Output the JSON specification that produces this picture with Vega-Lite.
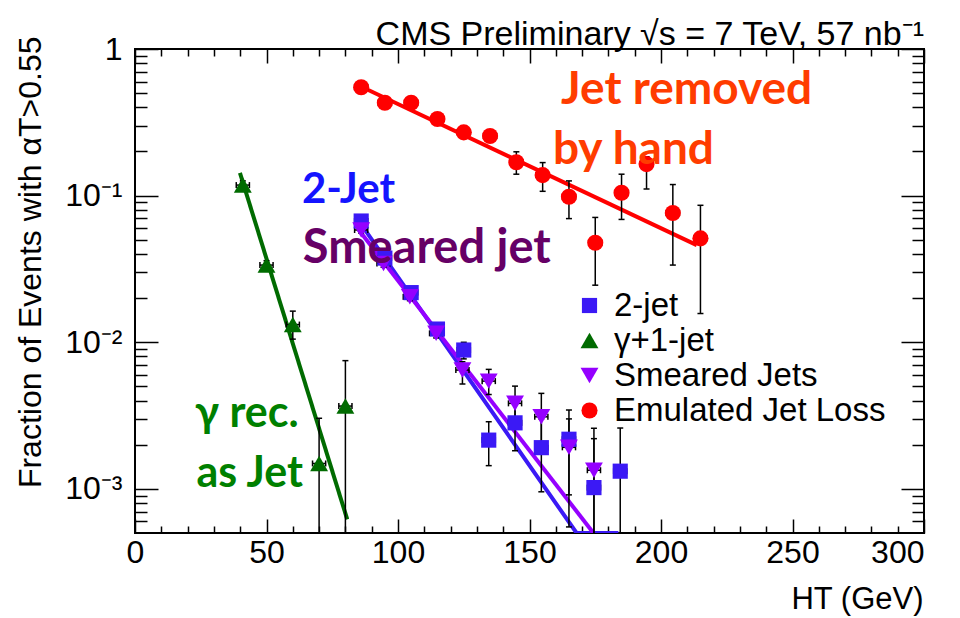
{
  "$schema": "https://vega.github.io/schema/vega-lite/v6.json",
  "width": 789,
  "height": 484,
  "autosize": {"type": "none"},
  "padding": {"left": 135, "top": 49, "right": 36, "bottom": 85},
  "background": "white",
  "title": {
    "text": "CMS Preliminary √s = 7 TeV, 57 nb⁻¹",
    "anchor": "end",
    "frame": "group",
    "font": "Liberation Sans",
    "fontSize": 34,
    "fontWeight": "normal",
    "color": "black",
    "offset": -19
  },
  "config": {
    "view": {"stroke": "black", "strokeWidth": 2},
    "axis": {"grid": false, "domain": false, "tickColor": "black", "tickWidth": 1.5, "labelColor": "black", "titleColor": "black"}
  },
  "datasets": {
    "pts": [
      {"s": "Emulated Jet Loss", "x": 86, "y": 0.548, "lo": 0.53, "hi": 0.566, "xl": 83.5, "xh": 88.5},
      {"s": "Emulated Jet Loss", "x": 95, "y": 0.43, "lo": 0.418, "hi": 0.442, "xl": 92.5, "xh": 97.5},
      {"s": "Emulated Jet Loss", "x": 105, "y": 0.43, "lo": 0.418, "hi": 0.442, "xl": 102.5, "xh": 107.5},
      {"s": "Emulated Jet Loss", "x": 115, "y": 0.333, "lo": 0.322, "hi": 0.344, "xl": 112.5, "xh": 117.5},
      {"s": "Emulated Jet Loss", "x": 125, "y": 0.27, "lo": 0.255, "hi": 0.286, "xl": 122.5, "xh": 127.5},
      {"s": "Emulated Jet Loss", "x": 135, "y": 0.255, "lo": 0.238, "hi": 0.273, "xl": 132.5, "xh": 137.5},
      {"s": "Emulated Jet Loss", "x": 145, "y": 0.169, "lo": 0.14, "hi": 0.199, "xl": 142.5, "xh": 147.5},
      {"s": "Emulated Jet Loss", "x": 155, "y": 0.138, "lo": 0.107, "hi": 0.168, "xl": 152.5, "xh": 157.5},
      {"s": "Emulated Jet Loss", "x": 165, "y": 0.0983, "lo": 0.0697, "hi": 0.126, "xl": 162.5, "xh": 167.5},
      {"s": "Emulated Jet Loss", "x": 175, "y": 0.0477, "lo": 0.0245, "hi": 0.071, "xl": 172.5, "xh": 177.5},
      {"s": "Emulated Jet Loss", "x": 185, "y": 0.1047, "lo": 0.0688, "hi": 0.14, "xl": 182.5, "xh": 187.5},
      {"s": "Emulated Jet Loss", "x": 194.5, "y": 0.164, "lo": 0.111, "hi": 0.184, "xl": 192, "xh": 197},
      {"s": "Emulated Jet Loss", "x": 204.5, "y": 0.0761, "lo": 0.0336, "hi": 0.119, "xl": 202, "xh": 207},
      {"s": "Emulated Jet Loss", "x": 215, "y": 0.0511, "lo": 0.0157, "hi": 0.0859, "xl": 212.5, "xh": 217.5},
      {"s": "γ+1-jet", "x": 41, "y": 0.118, "lo": 0.11, "hi": 0.126, "xl": 38.5, "xh": 43.5},
      {"s": "γ+1-jet", "x": 50, "y": 0.0336, "lo": 0.031, "hi": 0.036, "xl": 47.5, "xh": 52.5},
      {"s": "γ+1-jet", "x": 60, "y": 0.0132, "lo": 0.0105, "hi": 0.0163, "xl": 57.5, "xh": 62.5},
      {"s": "γ+1-jet", "x": 70, "y": 0.00149, "lo": 0.00001, "hi": 0.00303, "xl": 67.5, "xh": 72.5},
      {"s": "γ+1-jet", "x": 80, "y": 0.00367, "lo": 0.00001, "hi": 0.00749, "xl": 77.5, "xh": 82.5},
      {"s": "2-jet", "x": 86, "y": 0.0671, "lo": 0.064, "hi": 0.07, "xl": 83.5, "xh": 88.5},
      {"s": "2-jet", "x": 95, "y": 0.0375, "lo": 0.035, "hi": 0.04, "xl": 92.5, "xh": 97.5},
      {"s": "2-jet", "x": 105, "y": 0.0218, "lo": 0.0205, "hi": 0.0232, "xl": 102.5, "xh": 107.5},
      {"s": "2-jet", "x": 115, "y": 0.0123, "lo": 0.0114, "hi": 0.0132, "xl": 112.5, "xh": 117.5},
      {"s": "2-jet", "x": 125, "y": 0.00885, "lo": 0.0077, "hi": 0.00999, "xl": 122.5, "xh": 127.5},
      {"s": "2-jet", "x": 134.5, "y": 0.00215, "lo": 0.00144, "hi": 0.00287, "xl": 132, "xh": 137},
      {"s": "2-jet", "x": 144.5, "y": 0.00282, "lo": 0.00182, "hi": 0.004, "xl": 142, "xh": 147},
      {"s": "2-jet", "x": 154.5, "y": 0.00191, "lo": 0.000955, "hi": 0.003, "xl": 152, "xh": 157},
      {"s": "2-jet", "x": 165, "y": 0.00218, "lo": 0.00055, "hi": 0.00345, "xl": 162.5, "xh": 167.5},
      {"s": "2-jet", "x": 174.5, "y": 0.00102, "lo": 0.00001, "hi": 0.0022, "xl": 172, "xh": 177},
      {"s": "2-jet", "x": 184.5, "y": 0.00132, "lo": 0.00001, "hi": 0.0026, "xl": 182, "xh": 187},
      {"s": "Smeared Jets", "x": 86, "y": 0.0583, "lo": 0.0555, "hi": 0.061, "xl": 83.5, "xh": 88.5},
      {"s": "Smeared Jets", "x": 94.5, "y": 0.0345, "lo": 0.0325, "hi": 0.0365, "xl": 92, "xh": 97},
      {"s": "Smeared Jets", "x": 104.5, "y": 0.0204, "lo": 0.0192, "hi": 0.0216, "xl": 102, "xh": 107},
      {"s": "Smeared Jets", "x": 114.5, "y": 0.0115, "lo": 0.0107, "hi": 0.0123, "xl": 112, "xh": 117},
      {"s": "Smeared Jets", "x": 124.5, "y": 0.00646, "lo": 0.00519, "hi": 0.00736, "xl": 122, "xh": 127},
      {"s": "Smeared Jets", "x": 134.5, "y": 0.00543, "lo": 0.0044, "hi": 0.00653, "xl": 132, "xh": 137},
      {"s": "Smeared Jets", "x": 144.5, "y": 0.00383, "lo": 0.0028, "hi": 0.00502, "xl": 142, "xh": 147},
      {"s": "Smeared Jets", "x": 154.5, "y": 0.0031, "lo": 0.0021, "hi": 0.00448, "xl": 152, "xh": 157},
      {"s": "Smeared Jets", "x": 165, "y": 0.00192, "lo": 0.00091, "hi": 0.003, "xl": 162.5, "xh": 167.5},
      {"s": "Smeared Jets", "x": 174.5, "y": 0.00134, "lo": 0.00001, "hi": 0.00259, "xl": 172, "xh": 177}
    ],
    "fits": [
      {"s": "Emulated Jet Loss", "x": 88.1, "y": 0.531, "o": 1},
      {"s": "Emulated Jet Loss", "x": 213.6, "y": 0.046, "o": 2},
      {"s": "γ+1-jet", "x": 39.9, "y": 0.143, "o": 1},
      {"s": "γ+1-jet", "x": 80.7, "y": 0.000619, "o": 2},
      {"s": "2-jet", "x": 86.8, "y": 0.0607, "o": 1},
      {"s": "2-jet", "x": 167.9, "y": 0.0005, "o": 2},
      {"s": "2-jet", "x": 183.8, "y": 0.0005, "o": 3},
      {"s": "Smeared Jets", "x": 84.9, "y": 0.0589, "o": 1},
      {"s": "Smeared Jets", "x": 174.3, "y": 0.0005, "o": 2}
    ]
  },
  "layer": [
    {
      "data": {"name": "fits"},
      "transform": [{"filter": "datum.s == 'Emulated Jet Loss'"}],
      "mark": {"type": "line", "strokeWidth": 4, "color": "#ff0000", "clip": true},
      "encoding": {
        "x": {
          "field": "x", "type": "quantitative",
          "scale": {"domain": [0, 300], "nice": false, "zero": false},
          "axis": {
            "orient": "bottom",
            "values": [0, 10, 20, 30, 40, 50, 60, 70, 80, 90, 100, 110, 120, 130, 140, 150, 160, 170, 180, 190, 200, 210, 220, 230, 240, 250, 260, 270, 280, 290, 300],
            "tickSize": {"condition": {"test": "datum.value % 50 == 0", "value": -14}, "value": -7},
            "labelExpr": "datum.value % 50 == 0 ? format(datum.value, 'd') : ''",
            "labelAlign": {"condition": {"test": "datum.value == 300", "value": "right"}, "value": "center"},
            "labelFont": "Liberation Sans", "labelFontSize": 32, "labelPadding": 18,
            "labelOverlap": false, "labelFlush": false,
            "title": "HT (GeV)",
            "titleFont": "Liberation Sans", "titleFontSize": 31, "titleFontWeight": "normal",
            "titleAnchor": "end", "titleAlign": "right", "titleBaseline": "middle",
            "titleX": 788, "titleY": 66
          }
        },
        "y": {
          "field": "y", "type": "quantitative",
          "scale": {"type": "log", "domain": [0.0005, 1], "nice": false},
          "axis": {
            "orient": "left",
            "values": [0.0006, 0.0007, 0.0008, 0.0009, 0.001, 0.002, 0.003, 0.004, 0.005, 0.006, 0.007, 0.008, 0.009, 0.01, 0.02, 0.03, 0.04, 0.05, 0.06, 0.07, 0.08, 0.09, 0.1, 0.2, 0.3, 0.4, 0.5, 0.6, 0.7, 0.8, 0.9, 1],
            "tickSize": {"condition": {"test": "abs(log(datum.value)/LN10 - round(log(datum.value)/LN10)) < 0.001", "value": -23}, "value": -12},
            "labelExpr": "datum.value > 0.99 ? '1' : abs(datum.value - 0.1) < 1e-9 ? '10⁻¹' : abs(datum.value - 0.01) < 1e-10 ? '10⁻²' : abs(datum.value - 0.001) < 1e-11 ? '10⁻³' : ''",
            "labelFont": "Liberation Sans", "labelFontSize": 32, "labelPadding": 36,
            "labelOverlap": false, "labelFlush": false,
            "title": "Fraction of Events with αT>0.55",
            "titleFont": "Liberation Sans", "titleFontSize": 32, "titleFontWeight": "normal",
            "titleAnchor": "end", "titleAlign": "right", "titleBaseline": "middle", "titleAngle": -90,
            "titleX": -105, "titleY": -13
          }
        },
        "order": {"field": "o", "type": "quantitative"}
      }
    },
    {
      "data": {"name": "fits"},
      "transform": [{"filter": "datum.s == 'γ+1-jet'"}],
      "mark": {"type": "line", "strokeWidth": 4, "color": "#006b00", "clip": true},
      "encoding": {
        "x": {"field": "x", "type": "quantitative", "scale": {"domain": [0, 300], "nice": false, "zero": false}, "axis": null},
        "y": {"field": "y", "type": "quantitative", "scale": {"type": "log", "domain": [0.0005, 1], "nice": false}, "axis": null},
        "order": {"field": "o", "type": "quantitative"}
      }
    },
    {
      "data": {"name": "fits"},
      "transform": [{"filter": "datum.s == '2-jet'"}],
      "mark": {"type": "line", "strokeWidth": 4, "color": "#3b19f5", "clip": true},
      "encoding": {
        "x": {"field": "x", "type": "quantitative", "scale": {"domain": [0, 300], "nice": false, "zero": false}, "axis": null},
        "y": {"field": "y", "type": "quantitative", "scale": {"type": "log", "domain": [0.0005, 1], "nice": false}, "axis": null},
        "order": {"field": "o", "type": "quantitative"}
      }
    },
    {
      "data": {"name": "fits"},
      "transform": [{"filter": "datum.s == 'Smeared Jets'"}],
      "mark": {"type": "line", "strokeWidth": 4, "color": "#9500ff", "clip": true},
      "encoding": {
        "x": {"field": "x", "type": "quantitative", "scale": {"domain": [0, 300], "nice": false, "zero": false}, "axis": null},
        "y": {"field": "y", "type": "quantitative", "scale": {"type": "log", "domain": [0.0005, 1], "nice": false}, "axis": null},
        "order": {"field": "o", "type": "quantitative"}
      }
    },
    {
      "data": {"name": "pts"},
      "mark": {"type": "rule", "color": "black", "strokeWidth": 1.5, "clip": true},
      "encoding": {
        "x": {
          "field": "x", "type": "quantitative",
          "scale": {"domain": [0, 300], "nice": false, "zero": false},
          "axis": {
            "orient": "top",
            "values": [0, 10, 20, 30, 40, 50, 60, 70, 80, 90, 100, 110, 120, 130, 140, 150, 160, 170, 180, 190, 200, 210, 220, 230, 240, 250, 260, 270, 280, 290, 300],
            "tickSize": {"condition": {"test": "datum.value % 50 == 0", "value": -14}, "value": -7},
            "labels": false, "title": null
          }
        },
        "y": {
          "field": "lo", "type": "quantitative",
          "scale": {"type": "log", "domain": [0.0005, 1], "nice": false},
          "axis": {
            "orient": "right",
            "values": [0.0006, 0.0007, 0.0008, 0.0009, 0.001, 0.002, 0.003, 0.004, 0.005, 0.006, 0.007, 0.008, 0.009, 0.01, 0.02, 0.03, 0.04, 0.05, 0.06, 0.07, 0.08, 0.09, 0.1, 0.2, 0.3, 0.4, 0.5, 0.6, 0.7, 0.8, 0.9, 1],
            "tickSize": {"condition": {"test": "abs(log(datum.value)/LN10 - round(log(datum.value)/LN10)) < 0.001", "value": -23}, "value": -12},
            "labels": false, "title": null
          }
        },
        "y2": {"field": "hi"}
      }
    },
    {
      "data": {"name": "pts"},
      "mark": {"type": "rule", "color": "black", "strokeWidth": 1.5, "clip": true},
      "encoding": {
        "x": {"field": "xl", "type": "quantitative", "scale": {"domain": [0, 300], "nice": false, "zero": false}, "axis": null},
        "x2": {"field": "xh"},
        "y": {"field": "y", "type": "quantitative", "scale": {"type": "log", "domain": [0.0005, 1], "nice": false}, "axis": null}
      }
    },
    {
      "data": {"name": "pts"},
      "mark": {"type": "tick", "orient": "horizontal", "size": 6, "thickness": 1.5, "color": "black", "opacity": 1, "clip": true},
      "encoding": {
        "x": {"field": "x", "type": "quantitative", "scale": {"domain": [0, 300], "nice": false, "zero": false}, "axis": null},
        "y": {"field": "lo", "type": "quantitative", "scale": {"type": "log", "domain": [0.0005, 1], "nice": false}, "axis": null}
      }
    },
    {
      "data": {"name": "pts"},
      "mark": {"type": "tick", "orient": "horizontal", "size": 6, "thickness": 1.5, "color": "black", "opacity": 1, "clip": true},
      "encoding": {
        "x": {"field": "x", "type": "quantitative", "scale": {"domain": [0, 300], "nice": false, "zero": false}, "axis": null},
        "y": {"field": "hi", "type": "quantitative", "scale": {"type": "log", "domain": [0.0005, 1], "nice": false}, "axis": null}
      }
    },
    {
      "data": {"name": "pts"},
      "mark": {"type": "tick", "orient": "vertical", "size": 6, "thickness": 1.5, "color": "black", "opacity": 1, "clip": true},
      "encoding": {
        "x": {"field": "xl", "type": "quantitative", "scale": {"domain": [0, 300], "nice": false, "zero": false}, "axis": null},
        "y": {"field": "y", "type": "quantitative", "scale": {"type": "log", "domain": [0.0005, 1], "nice": false}, "axis": null}
      }
    },
    {
      "data": {"name": "pts"},
      "mark": {"type": "tick", "orient": "vertical", "size": 6, "thickness": 1.5, "color": "black", "opacity": 1, "clip": true},
      "encoding": {
        "x": {"field": "xh", "type": "quantitative", "scale": {"domain": [0, 300], "nice": false, "zero": false}, "axis": null},
        "y": {"field": "y", "type": "quantitative", "scale": {"type": "log", "domain": [0.0005, 1], "nice": false}, "axis": null}
      }
    },
    {
      "data": {"name": "pts"},
      "mark": {"type": "point", "filled": true, "opacity": 1, "strokeWidth": 0, "clip": true},
      "encoding": {
        "x": {"field": "x", "type": "quantitative", "scale": {"domain": [0, 300], "nice": false, "zero": false}, "axis": null},
        "y": {"field": "y", "type": "quantitative", "scale": {"type": "log", "domain": [0.0005, 1], "nice": false}, "axis": null},
        "size": {
          "field": "s", "type": "nominal",
          "scale": {"type": "ordinal", "domain": ["2-jet", "γ+1-jet", "Smeared Jets", "Emulated Jet Loss"], "range": [230, 320, 320, 260]},
          "legend": null
        },
        "color": {
          "field": "s", "type": "nominal",
          "scale": {"domain": ["2-jet", "γ+1-jet", "Smeared Jets", "Emulated Jet Loss"], "range": ["#3b19f5", "#006b00", "#9500ff", "#ff0000"]},
          "legend": {
            "orient": "none", "legendX": 438, "legendY": 240, "title": null,
            "labelFont": "Liberation Sans", "labelFontSize": 33, "labelColor": "black", "labelLimit": 500,
            "symbolSize": 150, "symbolStrokeWidth": 0, "labelOffset": 8, "rowPadding": 1
          }
        },
        "shape": {
          "field": "s", "type": "nominal",
          "scale": {"domain": ["2-jet", "γ+1-jet", "Smeared Jets", "Emulated Jet Loss"], "range": ["square", "triangle-up", "triangle-down", "circle"]},
          "legend": {
            "orient": "none", "legendX": 438, "legendY": 240, "title": null,
            "labelFont": "Liberation Sans", "labelFontSize": 33, "labelColor": "black", "labelLimit": 500,
            "symbolSize": 150, "symbolStrokeWidth": 0, "labelOffset": 8, "rowPadding": 1
          }
        }
      }
    },
    {
      "data": {"values": [{"x": 162, "y": 0.421, "t": "Jet removed"}, {"x": 158.9, "y": 0.164, "t": "by hand"}]},
      "mark": {"type": "text", "align": "left", "baseline": "alphabetic", "font": "Lato", "fontWeight": "bold", "fontSize": 46, "color": "#ff3c00"},
      "encoding": {
        "x": {"field": "x", "type": "quantitative", "scale": {"domain": [0, 300], "nice": false, "zero": false}, "axis": null},
        "y": {"field": "y", "type": "quantitative", "scale": {"type": "log", "domain": [0.0005, 1], "nice": false}, "axis": null},
        "text": {"field": "t"}
      }
    },
    {
      "data": {"values": [{"x": 63.5, "y": 0.089, "t": "2-Jet"}]},
      "mark": {"type": "text", "align": "left", "baseline": "alphabetic", "font": "Lato", "fontWeight": "bold", "fontSize": 42, "color": "#1414ff"},
      "encoding": {
        "x": {"field": "x", "type": "quantitative", "scale": {"domain": [0, 300], "nice": false, "zero": false}, "axis": null},
        "y": {"field": "y", "type": "quantitative", "scale": {"type": "log", "domain": [0.0005, 1], "nice": false}, "axis": null},
        "text": {"field": "t"}
      }
    },
    {
      "data": {"values": [{"x": 63.8, "y": 0.0345, "t": "Smeared jet"}]},
      "mark": {"type": "text", "align": "left", "baseline": "alphabetic", "font": "Lato", "fontWeight": "bold", "fontSize": 47, "color": "#660066"},
      "encoding": {
        "x": {"field": "x", "type": "quantitative", "scale": {"domain": [0, 300], "nice": false, "zero": false}, "axis": null},
        "y": {"field": "y", "type": "quantitative", "scale": {"type": "log", "domain": [0.0005, 1], "nice": false}, "axis": null},
        "text": {"field": "t"}
      }
    },
    {
      "data": {"values": [{"x": 22.8, "y": 0.00264, "t": "γ rec."}, {"x": 23.4, "y": 0.00103, "t": "as Jet"}]},
      "mark": {"type": "text", "align": "left", "baseline": "alphabetic", "font": "Lato", "fontWeight": "bold", "fontSize": 43, "color": "#008000"},
      "encoding": {
        "x": {"field": "x", "type": "quantitative", "scale": {"domain": [0, 300], "nice": false, "zero": false}, "axis": null},
        "y": {"field": "y", "type": "quantitative", "scale": {"type": "log", "domain": [0.0005, 1], "nice": false}, "axis": null},
        "text": {"field": "t"}
      }
    }
  ],
  "resolve": {
    "axis": {"x": "independent", "y": "independent"}
  }
}
